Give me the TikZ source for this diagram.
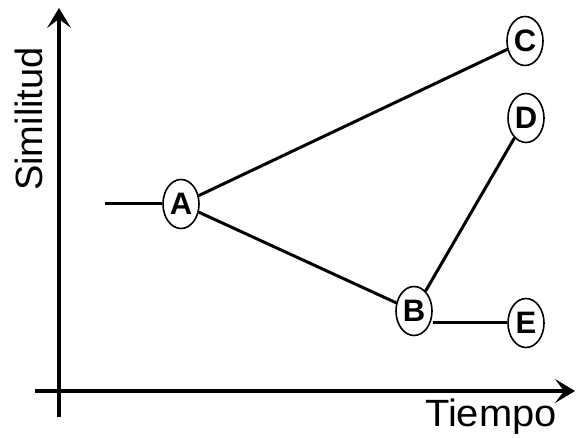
\documentclass[tikz,border=0pt]{standalone}
\usepackage{fontspec}
\setmainfont{Liberation Sans}
\usetikzlibrary{shapes.geometric,arrows.meta}
\begin{document}
\begin{tikzpicture}[x=1pt,y=-1pt,
  state/.style={draw,ellipse,line width=1.6pt,minimum width=36pt,minimum height=49pt,inner sep=0pt,font=\fontsize{31}{31}\selectfont\bfseries},
  edge/.style={line width=3pt},
  axis/.style={line width=4pt,-{Stealth[length=20pt,width=24pt,inset=9pt]}},
  lbl/.style={font=\fontsize{38}{38}\selectfont,inner sep=0pt}]
\useasboundingbox (0,0) rectangle (576,438);
\coordinate (yb) at (59,417);
\coordinate (yt) at (59,8);
\coordinate (xl) at (35,391);
\coordinate (xr) at (575,391);
\draw[axis] (yb) -- (yt);
\draw[axis] (xl) -- (xr);
\node[lbl,rotate=90,anchor=base] (sim) at (42,119) {Similitud};
\node[lbl,anchor=base east,xscale=1.05] (tie) at (557,427) {Tiempo};
\node[state] (A) at (181,204) {A};
\node[state] (B) at (414,311) {B};
\node[state] (C) at (525,41) {C};
\node[state] (D) at (526,118) {D};
\node[state] (E) at (526,323) {E};
\coordinate (in) at (105,204);
\draw[edge] (in) -- (A);
\draw[edge] (A) -- (C);
\draw[edge] (A) -- (B);
\draw[edge] (B) -- (D);
\draw[edge] (E.west) -- (E.west -| B.east);
\end{tikzpicture}
\end{document}
